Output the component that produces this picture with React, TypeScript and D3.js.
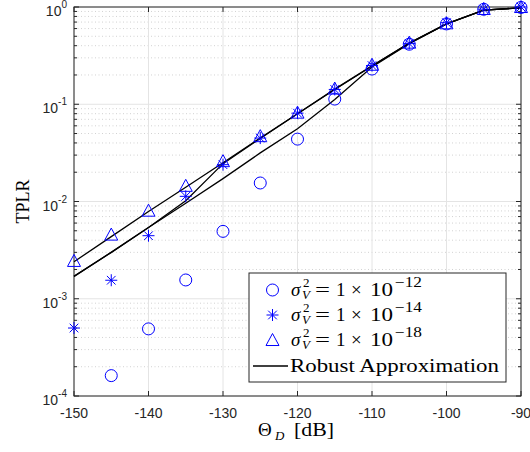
import React, { useEffect } from 'react';
import * as d3 from 'd3';

// Θ_D in dB
const theta = [-150, -145, -140, -135, -130, -125, -120, -115, -110, -105, -100, -95, -90];

// simulated TPLR (markers); NaN = below the plotted range
const simV12 = [NaN, 1.62e-4, 4.9e-4, 1.56e-3, 4.93e-3, 0.0155, 0.0438, 0.113, 0.23, 0.414, 0.67, 0.947, 0.99];
const simV14 = [5.0e-4, 1.55e-3, 4.45e-3, 0.0113, 0.0239, 0.0449, 0.081, 0.142, 0.25, 0.42, 0.69, 0.95, 1.0];
const simV18 = [2.45e-3, 4.57e-3, 8.05e-3, 0.0145, 0.026, 0.047, 0.082, 0.145, 0.255, 0.43, 0.68, 0.955, 1.0];

// robust approximation curves, one per noise level
const approxV12 = [1.7e-3, 3.0e-3, 5.4e-3, 9.6e-3, 0.0172, 0.0316, 0.056, 0.112, 0.242, 0.42, 0.67, 0.93, 0.98];
const approxV14 = [1.7e-3, 3.0e-3, 5.4e-3, 0.0102, 0.0245, 0.0445, 0.080, 0.142, 0.247, 0.425, 0.67, 0.93, 0.98];
const approxV18 = [2.4e-3, 4.35e-3, 7.9e-3, 0.014, 0.025, 0.045, 0.080, 0.143, 0.248, 0.425, 0.67, 0.93, 0.98];

const xTicks = [-150, -140, -130, -120, -110, -100, -90];
const yDecades = [-4, -3, -2, -1, 0];
const legendExps = ['\u221212', '\u221214', '\u221218'];

const W = 530;
const H = 452;
const M = { left: 74, right: 521, top: 7, bottom: 396 };
const BLUE = '#0000ff';
const AX = '#262626';
const TICK_FONT = '"Liberation Sans", Arial, sans-serif';
const TEX_FONT = '"Liberation Serif", "Times New Roman", serif';

const Marker = ({ kind, x, y }: { kind: string; x: number; y: number }) => {
  if (kind === 'circle') {
    return <circle cx={x} cy={y} r={6} fill="none" stroke={BLUE} strokeWidth={1} />;
  }
  if (kind === 'triangle') {
    const s = 6.5;
    return (
      <path
        d={`M${x},${y - s}L${x + s},${y + s * 0.85}L${x - s},${y + s * 0.85}Z`}
        fill="none"
        stroke={BLUE}
        strokeWidth={1}
      />
    );
  }
  const r = 6;
  const d = r * 0.72;
  return (
    <path
      d={`M${x},${y - r}V${y + r}M${x - r},${y}H${x + r}M${x - d},${y - d}L${x + d},${y + d}M${x - d},${y + d}L${x + d},${y - d}`}
      fill="none"
      stroke={BLUE}
      strokeWidth={1}
    />
  );
};

// legend label  σ²_V = 1 × 10^exp, laid out piece by piece (LaTeX-like spacing)
const SigmaLabel = ({ x0, b, exp }: { x0: number; b: number; exp: string }) => (
  <g fontFamily={TEX_FONT} fill="#000">
    <text x={x0} y={b} fontSize={19} fontStyle="italic">σ</text>
    <text x={x0 + 12} y={b - 9} fontSize={13}>2</text>
    <text x={x0 + 11} y={b + 3} fontSize={13} fontStyle="italic">V</text>
    <text x={x0 + 24} y={b} fontSize={19} textLength={15} lengthAdjust="spacingAndGlyphs">=</text>
    <text x={x0 + 45} y={b} fontSize={19}>1</text>
    <text x={x0 + 60} y={b} fontSize={19}>×</text>
    <text x={x0 + 79} y={b} fontSize={19} textLength={23} lengthAdjust="spacingAndGlyphs">10</text>
    <text x={x0 + 104} y={b - 9} fontSize={14} textLength={27} lengthAdjust="spacingAndGlyphs">{exp}</text>
  </g>
);

const App = () => {
  useEffect(() => {
    document.body.style.margin = '0';
  }, []);

  const x = d3.scaleLinear().domain([-150, -90]).range([M.left, M.right]);
  const y = d3.scaleLog().domain([1e-4, 1]).range([M.bottom, M.top]);

  const line = d3
    .line<[number, number]>()
    .defined((d) => !isNaN(d[1]))
    .x((d) => x(d[0]))
    .y((d) => y(d[1]));

  const minor: number[] = [];
  yDecades.slice(0, -1).forEach((e) => {
    for (let k = 2; k <= 9; k++) minor.push(k * Math.pow(10, e));
  });

  const series = [
    { kind: 'circle', vals: simV12 },
    { kind: 'star', vals: simV14 },
    { kind: 'triangle', vals: simV18 },
  ];
  const curves = [approxV12, approxV14, approxV18];

  const lgX = 249;
  const lgY = 273;
  const lgW = 257;
  const lgH = 109;
  const rows = [290, 315, 340, 366];

  return (
    <svg width={W} height={H} style={{ display: 'block', background: '#fff' }}>
      <rect x={0} y={0} width={W} height={H} fill="#fff" />
      {/* grid */}
      <g>
        {minor.map((v) => (
          <line key={'mg' + v} x1={M.left} x2={M.right} y1={y(v)} y2={y(v)} stroke="#d2d2d2" strokeWidth={1} strokeDasharray="1 2.5" />
        ))}
        {yDecades.map((e) => (
          <line key={'yg' + e} x1={M.left} x2={M.right} y1={y(Math.pow(10, e))} y2={y(Math.pow(10, e))} stroke="#e4e4e4" strokeWidth={1} />
        ))}
        {xTicks.map((t) => (
          <line key={'xg' + t} x1={x(t)} x2={x(t)} y1={M.top} y2={M.bottom} stroke="#e4e4e4" strokeWidth={1} />
        ))}
      </g>
      {/* axes box and ticks */}
      <g stroke={AX} strokeWidth={1} fill="none">
        <rect x={M.left} y={M.top} width={M.right - M.left} height={M.bottom - M.top} />
        {xTicks.map((t) => (
          <g key={'xt' + t}>
            <line x1={x(t)} x2={x(t)} y1={M.bottom} y2={M.bottom - 5} />
            <line x1={x(t)} x2={x(t)} y1={M.top} y2={M.top + 5} />
          </g>
        ))}
        {yDecades.map((e) => (
          <g key={'yt' + e}>
            <line x1={M.left} x2={M.left + 5} y1={y(Math.pow(10, e))} y2={y(Math.pow(10, e))} />
            <line x1={M.right} x2={M.right - 5} y1={y(Math.pow(10, e))} y2={y(Math.pow(10, e))} />
          </g>
        ))}
        {minor.map((v) => (
          <g key={'ymt' + v}>
            <line x1={M.left} x2={M.left + 3} y1={y(v)} y2={y(v)} />
            <line x1={M.right} x2={M.right - 3} y1={y(v)} y2={y(v)} />
          </g>
        ))}
      </g>
      {/* tick labels */}
      <g fontFamily={TICK_FONT} fill={AX}>
        {xTicks.map((t) => (
          <text key={'xl' + t} x={x(t)} y={418} fontSize={14} textAnchor="middle">
            {t}
          </text>
        ))}
        {yDecades.map((e) => {
          const sup = e < 0 ? '-' + Math.abs(e) : String(e);
          return (
            <text key={'yl' + e} x={M.left - 7} y={y(Math.pow(10, e)) + 9} fontSize={14} textAnchor="end">
              10
              <tspan dy={-8} fontSize={10}>
                {sup}
              </tspan>
            </text>
          );
        })}
      </g>
      {/* axis titles */}
      <g fontFamily={TEX_FONT} fill="#000">
        <text x={258} y={436} fontSize={19}>Θ</text>
        <text x={275} y={440} fontSize={13} fontStyle="italic">D</text>
        <text x={294} y={436} fontSize={19} textLength={40} lengthAdjust="spacingAndGlyphs">[dB]</text>
      </g>
      <text transform={`translate(29,${(M.top + M.bottom) / 2}) rotate(-90)`} fontFamily={TEX_FONT} fontSize={18} textAnchor="middle" fill="#000">
        TPLR
      </text>
      {/* data */}
      <g>
        {curves.map((c, i) => (
          <path key={'c' + i} d={line(theta.map((t, j) => [t, c[j]] as [number, number])) || ''} fill="none" stroke="#000" strokeWidth={1.3} />
        ))}
        {series.map((s) =>
          theta.map((t, j) =>
            isNaN(s.vals[j]) ? null : <Marker key={s.kind + t} kind={s.kind} x={x(t)} y={y(s.vals[j])} />
          )
        )}
      </g>
      {/* legend */}
      <g>
        <rect x={lgX} y={lgY} width={lgW} height={lgH} fill="#fff" stroke={AX} strokeWidth={1} />
        {series.map((s, i) => (
          <g key={'lg' + i}>
            <Marker kind={s.kind} x={272.5} y={rows[i]} />
            <SigmaLabel x0={291} b={rows[i] + 6} exp={legendExps[i]} />
          </g>
        ))}
        <line x1={253} x2={288} y1={rows[3]} y2={rows[3]} stroke="#000" strokeWidth={1.3} />
        <text
          x={290}
          y={rows[3] + 6}
          fontFamily={TEX_FONT}
          fontSize={19}
          fill="#000"
          textLength={209}
          lengthAdjust="spacingAndGlyphs"
        >
          Robust Approximation
        </text>
      </g>
    </svg>
  );
};

export default App;
